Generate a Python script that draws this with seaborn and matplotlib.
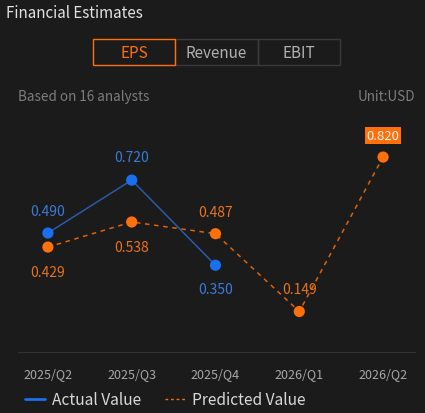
import numpy as np
import pandas as pd
import matplotlib
matplotlib.use("Agg")
import matplotlib.pyplot as plt
from matplotlib.patches import Rectangle
from matplotlib.lines import Line2D
import seaborn as sns

# Data
quarters = ["2025/Q2", "2025/Q3", "2025/Q4", "2026/Q1", "2026/Q2"]
actual = [0.490, 0.720, 0.350, None, None]
predicted = [0.429, 0.538, 0.487, 0.149, 0.820]
tabs = ["EPS", "Revenue", "EBIT"]

BG = "#1b1b1b"
BLUE = "#1a6ff0"
BLUE_LINE = "#2b5aa8"
BLUE_TXT = "#3b7bd8"
ORANGE = "#ff6f0a"
ORANGE_TXT = "#e8731f"

sns.set_theme(style="dark")
plt.rcParams['font.family'] = ['Noto Sans CJK SC', 'DejaVu Sans']

W, H = 425, 414
fig = plt.figure(figsize=(W / 100, H / 100), dpi=100, facecolor=BG)

def fx(px):
    return px / W

def fy(py):
    return 1 - py / H

ax = fig.add_axes([fx(18), fy(353), fx(415) - fx(18), fy(130) - fy(353)])
ax.set_facecolor(BG)

df = pd.DataFrame({"x": np.arange(len(quarters)), "actual": actual, "predicted": predicted})
act = df.dropna(subset=["actual"])

sns.lineplot(data=df, x="x", y="predicted", ax=ax, color=ORANGE, lw=1.1,
             linestyle=(0, (3, 3)), alpha=0.85)
sns.lineplot(data=act, x="x", y="actual", ax=ax, color=BLUE_LINE, lw=1.1)
sns.scatterplot(data=df, x="x", y="predicted", ax=ax, color=ORANGE, s=65,
                edgecolor="none", zorder=5)
sns.scatterplot(data=act, x="x", y="actual", ax=ax, color=BLUE, s=65,
                edgecolor="none", zorder=5)

ax.set_xlim(-0.357, 4.381)
ax.set_ylim(-0.027, 0.942)

# value labels: above or below each point
LBL = 10
pred_off = [-25, -25, 22, 22, 22]
act_off = [22, 23, -24]
for i, v in enumerate(predicted):
    off = pred_off[i]
    if i == len(predicted) - 1:
        ax.annotate(f"{v:.3f}", (i, v), xytext=(0, off), textcoords="offset pixels",
                    ha="center", va="center", fontsize=LBL - 0.6, color="#f5f5f5",
                    bbox=dict(boxstyle="square,pad=0.15", fc=ORANGE, ec="none"))
    else:
        ax.annotate(f"{v:.3f}", (i, v), xytext=(0, off), textcoords="offset pixels",
                    ha="center", va="center", fontsize=LBL, color=ORANGE_TXT)
for i, v in act["actual"].items():
    ax.annotate(f"{v:.3f}", (i, v), xytext=(0, act_off[i]), textcoords="offset pixels",
                ha="center", va="center", fontsize=LBL, color=BLUE_TXT)

ax.set_xticks(df["x"])
ax.set_xticklabels(quarters, fontsize=9, color="#a8a8a8")
ax.tick_params(axis="x", length=0, pad=11)
ax.set_yticks([])
ax.set_xlabel("")
ax.set_ylabel("")
ax.grid(False)
for s in ["top", "left", "right"]:
    ax.spines[s].set_visible(False)
ax.spines["bottom"].set_color("#333333")
ax.spines["bottom"].set_linewidth(0.8)

# header
fig.text(fx(6), fy(14), "Financial Estimates", fontsize=10.9, color="#e2e2e2",
         ha="left", va="center")

tab_x = [93, 175, 258, 340]
for i, name in enumerate(tabs):
    x0, x1 = tab_x[i], tab_x[i + 1]
    active = i == 0
    fig.patches.append(Rectangle((fx(x0), fy(66)), fx(x1) - fx(x0), fy(40) - fy(66),
                                 transform=fig.transFigure, fill=False,
                                 ec=ORANGE if active else "#3a3a3a", lw=1.0,
                                 zorder=3 if active else 2))
    fig.text(fx((x0 + x1) / 2), fy(53), name, fontsize=11,
             color=ORANGE if active else "#b0b0b0", ha="center", va="center")

fig.text(fx(18), fy(97), "Based on 16 analysts", fontsize=9.7, color="#7d7d7d",
         ha="left", va="center")
fig.text(fx(415), fy(97), "Unit:USD", fontsize=9.7, color="#7d7d7d",
         ha="right", va="center")

# legend
handles = [Line2D([], [], color=BLUE, lw=2),
           Line2D([], [], color=ORANGE, lw=1, linestyle=(0, (2, 2)))]
fig.legend(handles, ["Actual Value", "Predicted Value"], loc="center left",
           bbox_to_anchor=(fx(25), fy(401)), ncol=2, frameon=False,
           fontsize=11.2, labelcolor="#d8d8d8", handlelength=1.3,
           handletextpad=0.45, columnspacing=1.5, borderaxespad=0, borderpad=0)

fig.savefig("out.png", dpi=100, facecolor=BG)
